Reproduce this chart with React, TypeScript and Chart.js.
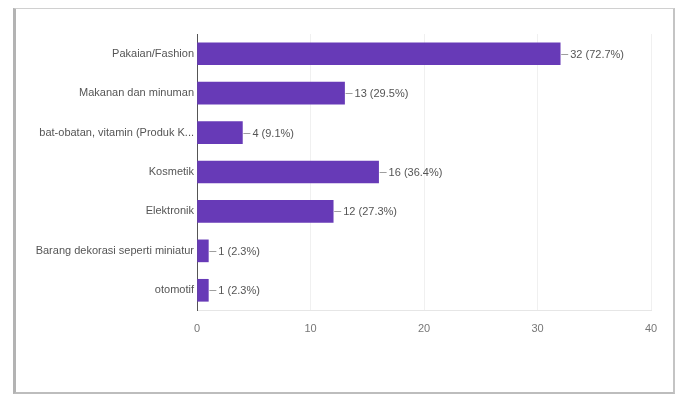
import React, { useEffect, useRef } from "react";
import { Chart, registerables } from "chart.js";

Chart.register(...registerables);

const categories = [
  "Pakaian/Fashion",
  "Makanan dan minuman",
  "bat-obatan, vitamin (Produk K...",
  "Kosmetik",
  "Elektronik",
  "Barang dekorasi seperti miniatur",
  "otomotif",
];
const counts = [32, 13, 4, 16, 12, 1, 1];
const percents = ["72.7", "29.5", "9.1", "36.4", "27.3", "2.3", "2.3"];
const xTicks = [0, 10, 20, 30, 40];

const FONT = "'Liberation Sans', Arial, sans-serif";

const valueLabels = {
  id: "valueLabels",
  afterDatasetsDraw(chart: any) {
    const ctx = chart.ctx;
    const meta = chart.getDatasetMeta(0);
    ctx.save();
    meta.data.forEach((bar: any, i: number) => {
      const x = bar.x;
      const y = bar.y;
      ctx.strokeStyle = "#9e9e9e";
      ctx.lineWidth = 1;
      ctx.beginPath();
      ctx.moveTo(x + 1, Math.round(y) + 0.5);
      ctx.lineTo(x + 8, Math.round(y) + 0.5);
      ctx.stroke();
      ctx.fillStyle = "#555";
      ctx.font = `11px ${FONT}`;
      ctx.textAlign = "left";
      ctx.textBaseline = "middle";
      ctx.fillText(`${counts[i]} (${percents[i]}%)`, x + 10, y + 1);
    });
    ctx.restore();
  },
};

export default function App() {
  const ref = useRef<HTMLCanvasElement>(null);
  useEffect(() => {
    document.body.style.margin = "0";
    const chart = new Chart(ref.current!, {
      type: "bar",
      data: {
        labels: categories,
        datasets: [
          {
            data: counts,
            backgroundColor: "#673ab7",
            barThickness: 22,
          },
        ],
      },
      options: {
        indexAxis: "y",
        animation: false,
        responsive: false,
        maintainAspectRatio: false,
        layout: { padding: { left: 0, right: 31, top: 34, bottom: 0 } },
        plugins: {
          legend: { display: false },
          tooltip: { enabled: false },
        },
        scales: {
          x: {
            min: 0,
            max: 40,
            afterBuildTicks: (scale: any) => {
              scale.ticks = xTicks.map((v) => ({ value: v }));
            },
            afterFit: (scale: any) => {
              scale.height = 86;
            },
            grid: {
              drawTicks: false,
              color: (c: any) => (c.tick && c.tick.value === 0 ? "rgba(0,0,0,0)" : "#f0f0f0"),
            },
            border: { display: true, color: "#e6e6e6" },
            ticks: {
              padding: 12,
              color: "#777",
              font: { family: FONT, size: 11 },
            },
          },
          y: {
            afterFit: (scale: any) => {
              scale.width = 197;
            },
            grid: { display: false, drawTicks: false },
            border: { display: true, color: "#555", width: 1 },
            ticks: {
              padding: 3,
              color: "#555",
              font: { family: FONT, size: 11 },
            },
          },
        },
      },
      plugins: [valueLabels],
    });
    return () => chart.destroy();
  }, []);

  return (
    <div style={{ position: "relative", width: 682, height: 396, background: "#fff", overflow: "hidden" }}>
      <div
        style={{
          position: "absolute",
          left: 13,
          top: 8,
          width: 657,
          height: 383,
          borderLeft: "3px solid #b3b3b3",
          borderTop: "1px solid #d0d0d0",
          borderRight: "2px solid #c4c4c4",
          borderBottom: "2px solid #bdbdbd",
        }}
      />
      <canvas ref={ref} width={682} height={396} style={{ position: "absolute", left: 0, top: 0 }} />
    </div>
  );
}
